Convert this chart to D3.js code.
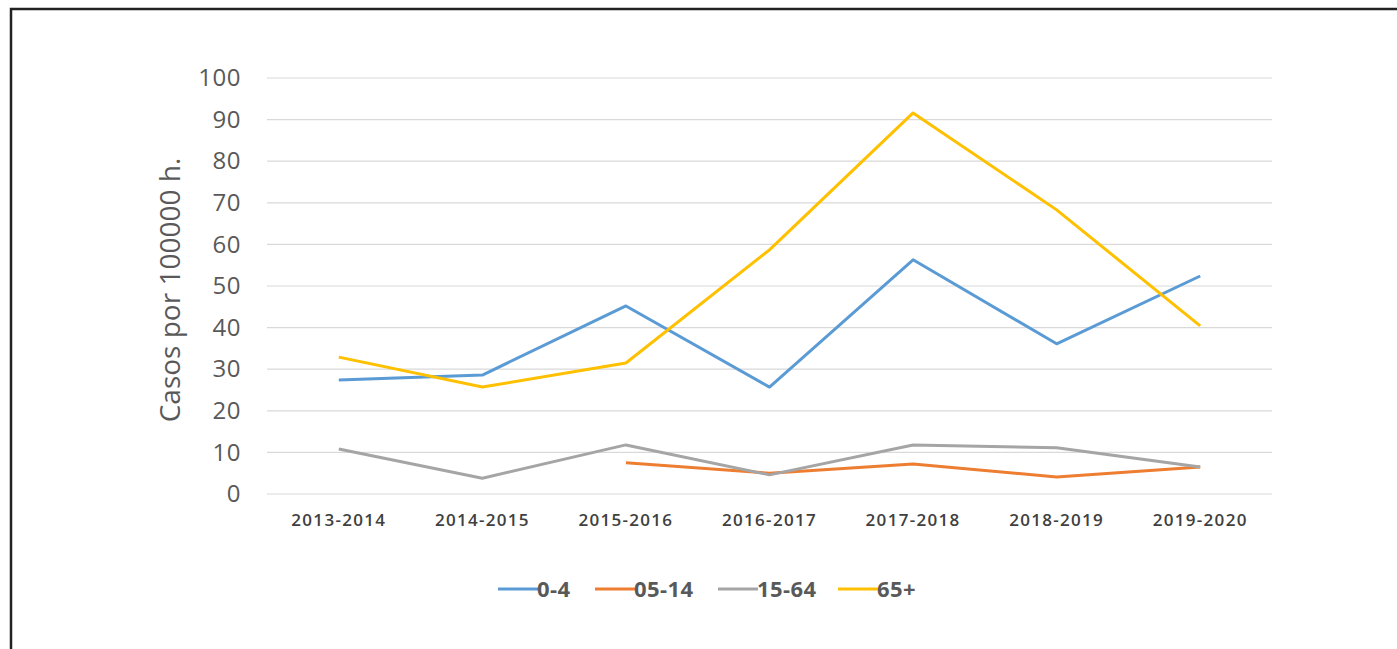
<!DOCTYPE html>
<html><head><meta charset="utf-8">
<script src="https://cdn.jsdelivr.net/npm/d3@7"></script>
<style>body{margin:0;background:#fff;} svg{display:block;}</style>
</head><body>
<svg id="c" width="1397" height="649"></svg>
<script>
const categories = ["2013-2014","2014-2015","2015-2016","2016-2017","2017-2018","2018-2019","2019-2020"];
const seriesNames = ["0-4","05-14","15-64","65+"];
const s0_4   = [27.4, 28.6, 45.2, 25.7, 56.3, 36.1, 52.4];
const s05_14 = [null, null, 7.5, 5.0, 7.2, 4.1, 6.5];
const s15_64 = [10.8, 3.8, 11.8, 4.6, 11.8, 11.1, 6.5];
const s65    = [32.9, 25.7, 31.5, 58.7, 91.6, 68.3, 40.4];
const yTicks = [0,10,20,30,40,50,60,70,80,90,100];
const colors = ["#5B9BD5","#ED7D31","#A5A5A5","#FFC000"];
const series = [s0_4, s05_14, s15_64, s65];

const svg = d3.select("#c");
// frame
svg.append("rect").attr("x",11).attr("y",9).attr("width",1400).attr("height",660)
  .attr("fill","none").attr("stroke","#222").attr("stroke-width",2.5);

const x = d3.scaleBand().domain(categories).range([267,1272]);
const y = d3.scaleLinear().domain([0,100]).range([494,78]);

// gridlines
svg.append("g").selectAll("line").data(yTicks).join("line")
  .attr("x1",267).attr("x2",1272).attr("y1",d=>y(d)).attr("y2",d=>y(d))
  .attr("stroke","#d9d9d9").attr("stroke-width",1.2);

// y axis
const ya = svg.append("g").attr("transform","translate(241,0)")
  .call(d3.axisLeft(y).tickValues(yTicks).tickSize(0).tickPadding(0));
ya.select(".domain").remove();
ya.selectAll("text").attr("font-family","'Open Sans',sans-serif").attr("font-size",24)
  .attr("letter-spacing","0.5px").attr("fill","#595959");

// x axis
const xa = svg.append("g").attr("transform","translate(0,514)")
  .call(d3.axisBottom(x).tickSize(0).tickPadding(0));
xa.select(".domain").remove();
xa.selectAll("text").attr("font-family","'Open Sans',sans-serif").attr("font-size",17)
  .attr("font-weight","600").attr("letter-spacing","1.3px").attr("fill","#404040").attr("dy","0.71em");

// y title
svg.append("text").attr("transform","translate(180,290) rotate(-90)")
  .attr("text-anchor","middle").attr("font-family","'Open Sans',sans-serif").attr("font-size",28)
  .attr("fill","#595959").text("Casos por 100000 h.");

// lines
const line = d3.line().defined(d=>d.v!=null).x(d=>x(d.c)+x.bandwidth()/2).y(d=>y(d.v));
series.forEach((s,i)=>{
  svg.append("path").datum(categories.map((c,j)=>({c, v:s[j]})))
    .attr("d",line).attr("fill","none").attr("stroke",colors[i]).attr("stroke-width",3)
    .attr("stroke-linejoin","round");
});

// legend
const legX = [498, 595, 718, 838];
seriesNames.forEach((n,i)=>{
  const g = svg.append("g").attr("transform",`translate(${legX[i]},589)`);
  g.append("line").attr("x1",0).attr("x2",40).attr("stroke",colors[i]).attr("stroke-width",3);
  g.append("text").attr("x",39).attr("dy","0.36em").attr("font-family","'Open Sans',sans-serif")
    .attr("font-size",22).attr("font-weight","bold").attr("letter-spacing","0.4px").attr("fill","#595959").text(n);
});
</script>
</body></html>
